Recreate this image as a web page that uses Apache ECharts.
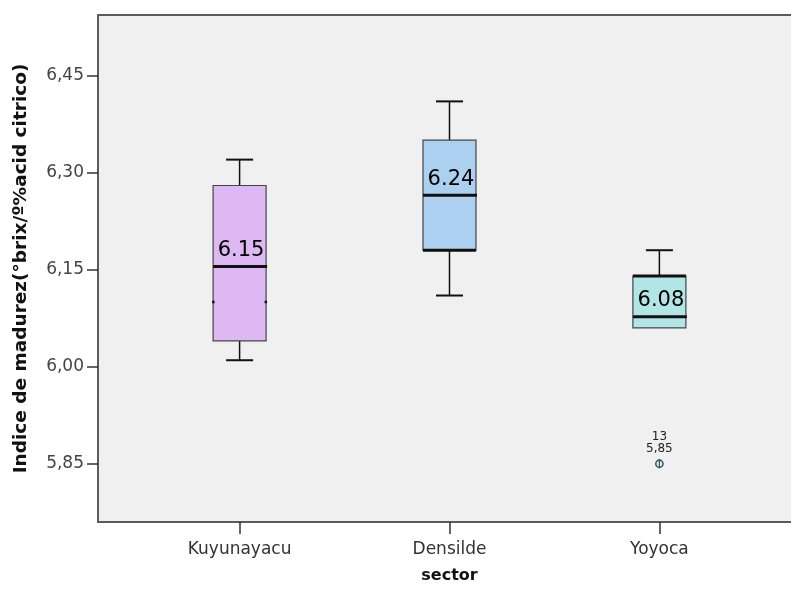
<!DOCTYPE html>
<html>
<head>
<meta charset="utf-8">
<script src="https://cdn.jsdelivr.net/npm/echarts@6/dist/echarts.min.js"></script>
<style>
  html, body { margin: 0; padding: 0; background: #ffffff; }
  #chart { width: 791px; height: 589px; }
</style>
</head>
<body>
<div id="chart"></div>
<script>
// Sectors along the x axis
const categories = ['Kuyunayacu', 'Densilde', 'Yoyoca'];
// Five-number summaries per sector
const whiskerLow  = [6.01, 6.11, 6.06];
const quartile1   = [6.04, 6.18, 6.06];
const medians     = [6.155, 6.265, 6.077];
const quartile3   = [6.28, 6.35, 6.14];
const whiskerHigh = [6.32, 6.41, 6.18];
// Mean values written inside each box
const means = [6.15, 6.24, 6.08];
// Extra heavy lines drawn on a box edge, and the stub marks in the first box
const heavyEdges = [null, 6.18, 6.14];
const stubMarks  = [6.10, null, null];
// Outlying case
const outlierCat   = [3];
const outlierValue = [5.85];
const outlierCase  = ['13'];
// Y axis ticks
const yTicks = [5.85, 6.00, 6.15, 6.30, 6.45];

const fills = ['#ddb8f2', '#acd0ef', '#b2e6e6'];
const FONT = 'DejaVu Sans';
const fmtComma = v => v.toFixed(2).replace('.', ',');

const boxData = categories.map((c, i) => [
  i + 1, whiskerLow[i], quartile1[i], medians[i], quartile3[i], whiskerHigh[i],
  means[i], heavyEdges[i], stubMarks[i]
]);

function renderBox(params, api) {
  const i = params.dataIndex;
  const x = api.value(0);
  const pLow = api.coord([x, api.value(1)]);
  const pQ1 = api.coord([x, api.value(2)]);
  const pMed = api.coord([x, api.value(3)]);
  const pQ3 = api.coord([x, api.value(4)]);
  const pHigh = api.coord([x, api.value(5)]);
  const cx = pMed[0];
  const halfBox = 26.5;
  const halfCap = 13.5;
  const children = [];
  const black = '#111';
  // whiskers
  children.push({ type: 'line', shape: { x1: cx, y1: pQ3[1], x2: cx, y2: pHigh[1] }, style: { stroke: black, lineWidth: 1.5 } });
  children.push({ type: 'line', shape: { x1: cx - halfCap, y1: pHigh[1], x2: cx + halfCap, y2: pHigh[1] }, style: { stroke: black, lineWidth: 2 } });
  if (Math.abs(pLow[1] - pQ1[1]) > 0.5) {
    children.push({ type: 'line', shape: { x1: cx, y1: pQ1[1], x2: cx, y2: pLow[1] }, style: { stroke: black, lineWidth: 1.5 } });
    children.push({ type: 'line', shape: { x1: cx - halfCap, y1: pLow[1], x2: cx + halfCap, y2: pLow[1] }, style: { stroke: black, lineWidth: 2 } });
  }
  // box
  children.push({ type: 'rect', shape: { x: cx - halfBox, y: pQ3[1], width: 2 * halfBox, height: pQ1[1] - pQ3[1] },
    style: { fill: fills[i], stroke: '#444', lineWidth: 1.2 } });
  // heavy edge
  const heavy = api.value(7);
  if (heavy != null && !isNaN(heavy)) {
    const ph = api.coord([x, heavy]);
    children.push({ type: 'line', shape: { x1: cx - halfBox, y1: ph[1], x2: cx + halfBox, y2: ph[1] }, style: { stroke: black, lineWidth: 3 } });
  }
  // stub marks on the box sides
  const stub = api.value(8);
  if (stub != null && !isNaN(stub)) {
    const ps = api.coord([x, stub]);
    children.push({ type: 'line', shape: { x1: cx - halfBox - 1, y1: ps[1], x2: cx - halfBox + 1.5, y2: ps[1] }, style: { stroke: black, lineWidth: 2.5 } });
    children.push({ type: 'line', shape: { x1: cx + halfBox - 1.5, y1: ps[1], x2: cx + halfBox + 1, y2: ps[1] }, style: { stroke: black, lineWidth: 2.5 } });
  }
  // median
  children.push({ type: 'line', shape: { x1: cx - halfBox, y1: pMed[1], x2: cx + halfBox + 1, y2: pMed[1] }, style: { stroke: black, lineWidth: 3 } });
  // mean label
  children.push({ type: 'text', x: cx + 1.5, y: pMed[1] - 16,
    style: { text: api.value(6).toFixed(2), fill: '#000', font: '21px "' + FONT + '"', textAlign: 'center', textVerticalAlign: 'middle' } });
  return { type: 'group', children };
}

function renderOutlier(params, api) {
  const p = api.coord([api.value(0), api.value(1)]);
  const col = '#2f5f6a';
  return { type: 'group', children: [
    { type: 'circle', shape: { cx: p[0], cy: p[1], r: 3.6 }, style: { fill: 'none', stroke: col, lineWidth: 1.6 } },
    { type: 'line', shape: { x1: p[0], y1: p[1] - 4.5, x2: p[0], y2: p[1] + 4.5 }, style: { stroke: col, lineWidth: 1.3 } },
    { type: 'text', x: p[0], y: p[1] - 15, style: { text: fmtComma(api.value(1)), fill: '#222', font: '12px "' + FONT + '"', textAlign: 'center', textVerticalAlign: 'middle' } },
    { type: 'text', x: p[0], y: p[1] - 26.5, style: { text: outlierCase[params.dataIndex], fill: '#222', font: '12px "' + FONT + '"', textAlign: 'center', textVerticalAlign: 'middle' } }
  ] };
}

const xMin = 0.3254, xMax = 3.627;
const chart = echarts.init(document.getElementById('chart'), null, { renderer: 'canvas' });
chart.setOption({
  animation: false,
  backgroundColor: '#ffffff',
  grid: { left: 98, top: 15, right: -2, bottom: 63, show: true, backgroundColor: '#f0f0f0', borderWidth: 0 },
  xAxis: [{
    type: 'value', min: xMin, max: xMax, position: 'bottom',
    axisLine: { show: true, lineStyle: { color: '#5a5a5a', width: 2 } },
    axisTick: { show: true, customValues: [1, 2, 3], length: 12, lineStyle: { color: '#333', width: 1.5 } },
    axisLabel: { customValues: [1, 2, 3], formatter: v => categories[Math.round(v) - 1], margin: 19, color: '#333', fontFamily: FONT, fontSize: 17 },
    splitLine: { show: false },
    name: 'sector', nameLocation: 'middle', nameGap: 46,
    nameTextStyle: { fontFamily: FONT, fontSize: 16, fontWeight: 'bold', color: '#111', padding: [0, 0, 0, 10] }
  }, {
    // plain top frame line
    type: 'value', min: xMin, max: xMax, position: 'top',
    axisLine: { show: true, lineStyle: { color: '#5a5a5a', width: 2 } },
    axisTick: { show: false }, axisLabel: { show: false }, splitLine: { show: false }
  }],
  yAxis: {
    type: 'value', min: 5.76, max: 6.5435,
    axisLine: { show: true, lineStyle: { color: '#5a5a5a', width: 2 } },
    axisTick: { show: true, customValues: yTicks, length: 11, lineStyle: { color: '#333', width: 1.5 } },
    axisLabel: { customValues: yTicks, formatter: fmtComma, margin: 14, color: '#444', fontFamily: FONT, fontSize: 17 },
    splitLine: { show: false },
    name: 'Indice de madurez(°brix/º%acid citrico)', nameLocation: 'middle', nameGap: 67, nameRotate: 90,
    nameTextStyle: { fontFamily: FONT, fontSize: 18.5, fontWeight: 'bold', color: '#111' }
  },
  series: [
    { type: 'custom', renderItem: renderBox, data: boxData, encode: { x: 0, y: [1, 5] }, clip: false },
    { type: 'custom', renderItem: renderOutlier, data: outlierCat.map((c, i) => [c, outlierValue[i]]), encode: { x: 0, y: 1 } }
  ]
});
</script>
</body>
</html>
